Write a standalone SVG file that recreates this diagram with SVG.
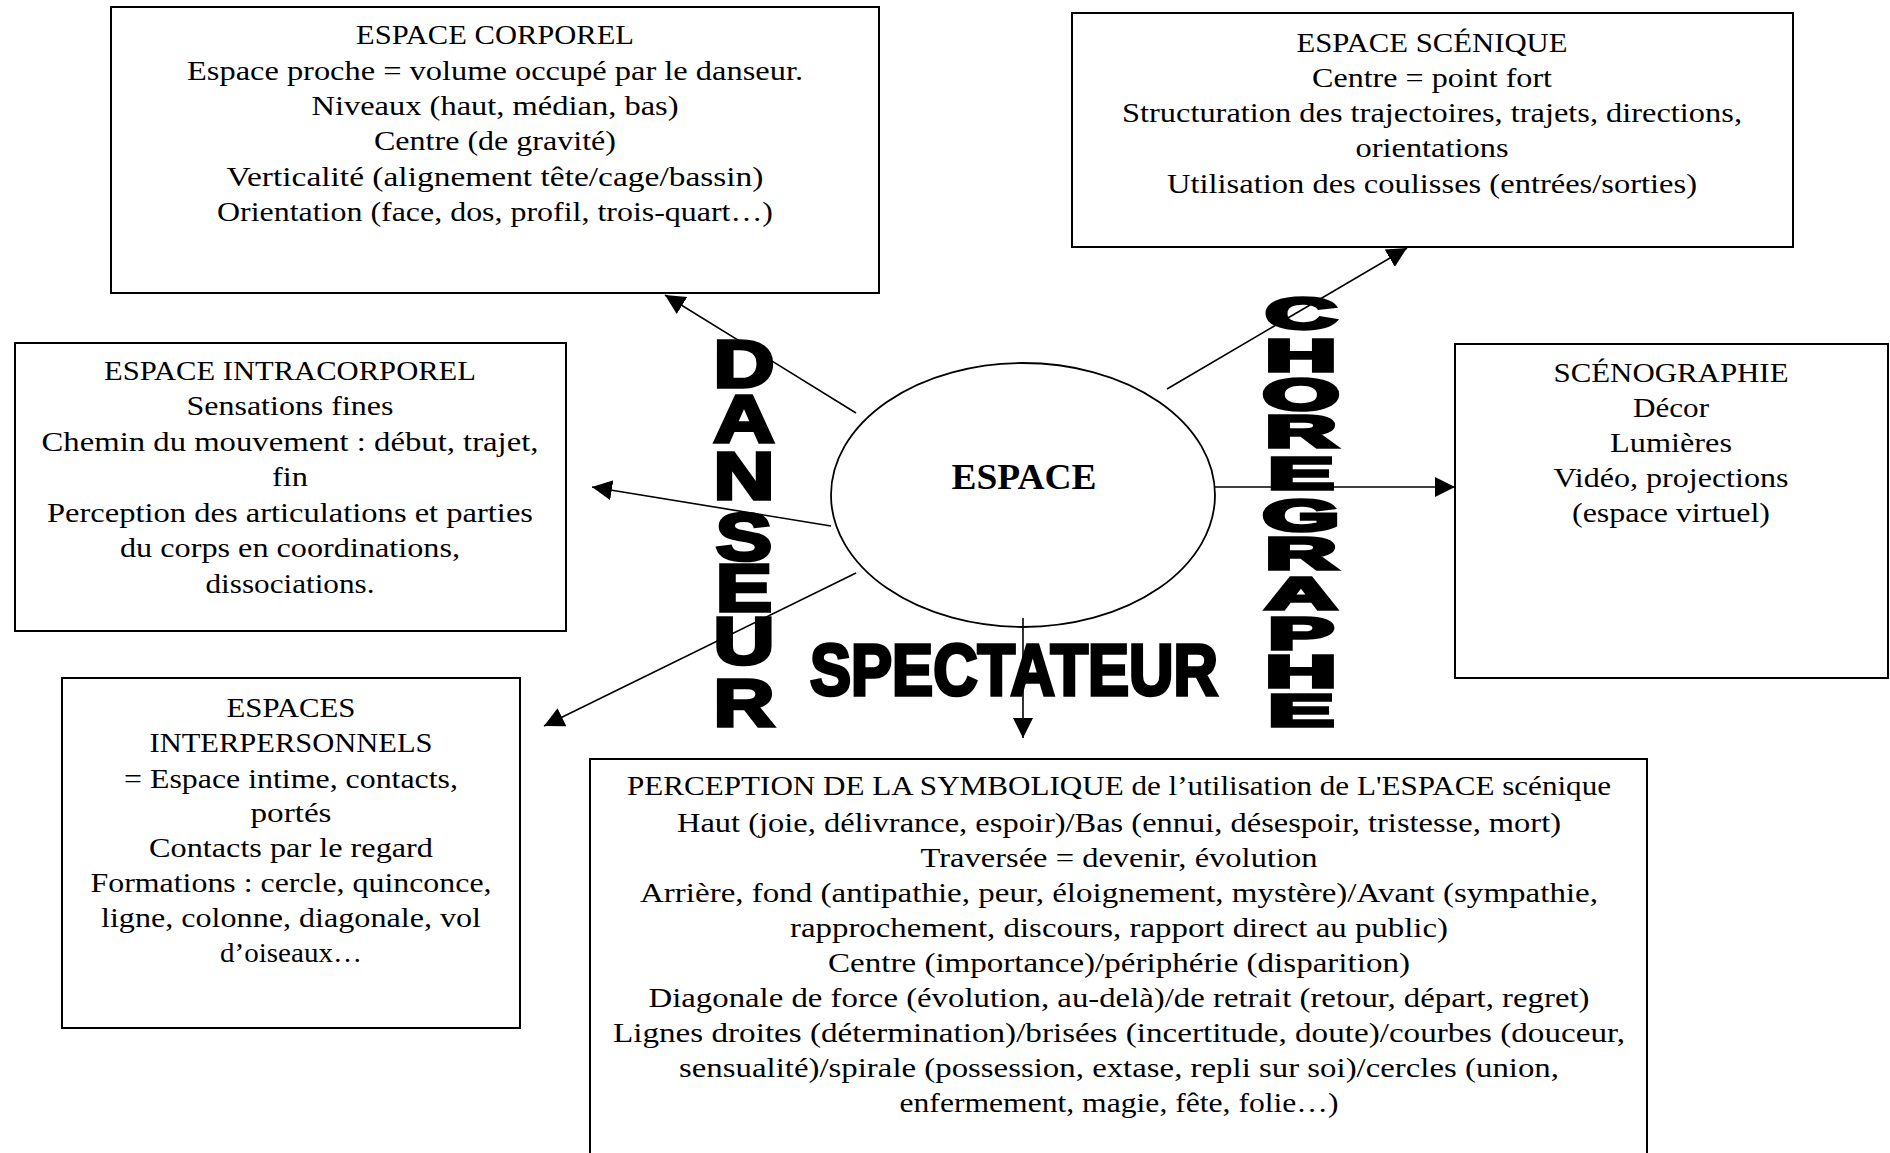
<svg xmlns="http://www.w3.org/2000/svg" width="1890" height="1153" viewBox="0 0 1890 1153">
<style>
.box { fill: #fff; stroke: #000; stroke-width: 2; }
.t { font-family: "Liberation Serif", "Times New Roman", serif; font-size: 27px; fill: #000; text-anchor: middle; }
.big { font-family: "Liberation Sans", Arial, sans-serif; font-weight: bold; fill: #000; stroke: #000; stroke-width: 3.5; stroke-linejoin: miter; text-anchor: middle; }
.conn { stroke: #000; stroke-width: 1.6; fill: none; marker-end: url(#arrow); }
</style>
<defs>
<marker id="arrow" markerUnits="userSpaceOnUse" markerWidth="22" markerHeight="22" refX="20" refY="10" orient="auto">
<path d="M0,0 L20,10 L0,20 z" fill="#000"/>
</marker>
</defs>
<rect width="1890" height="1153" fill="#fff"/>

<g id="espace-corporel">
<rect class="box" x="111" y="7" width="768" height="286"/>
<text class="t" x="495" y="44" textLength="278" lengthAdjust="spacingAndGlyphs">ESPACE CORPOREL</text>
<text class="t" x="495" y="80" textLength="616" lengthAdjust="spacingAndGlyphs">Espace proche = volume occupé par le danseur.</text>
<text class="t" x="495" y="115" textLength="367" lengthAdjust="spacingAndGlyphs">Niveaux (haut, médian, bas)</text>
<text class="t" x="495" y="150" textLength="242" lengthAdjust="spacingAndGlyphs">Centre (de gravité)</text>
<text class="t" x="495" y="186" textLength="537" lengthAdjust="spacingAndGlyphs">Verticalité (alignement tête/cage/bassin)</text>
<text class="t" x="495" y="221" textLength="556" lengthAdjust="spacingAndGlyphs">Orientation (face, dos, profil, trois-quart…)</text>
</g>

<g id="espace-scenique">
<rect class="box" x="1072" y="13" width="721" height="234"/>
<text class="t" x="1432" y="52" textLength="271" lengthAdjust="spacingAndGlyphs">ESPACE SCÉNIQUE</text>
<text class="t" x="1432" y="87" textLength="240" lengthAdjust="spacingAndGlyphs">Centre = point fort</text>
<text class="t" x="1432" y="122" textLength="620" lengthAdjust="spacingAndGlyphs">Structuration des trajectoires, trajets, directions,</text>
<text class="t" x="1432" y="157" textLength="153" lengthAdjust="spacingAndGlyphs">orientations</text>
<text class="t" x="1432" y="193" textLength="530" lengthAdjust="spacingAndGlyphs">Utilisation des coulisses (entrées/sorties)</text>
</g>

<g id="espace-intracorporel">
<rect class="box" x="15" y="343" width="551" height="288"/>
<text class="t" x="290" y="380" textLength="372" lengthAdjust="spacingAndGlyphs">ESPACE INTRACORPOREL</text>
<text class="t" x="290" y="415" textLength="207" lengthAdjust="spacingAndGlyphs">Sensations fines</text>
<text class="t" x="290" y="451" textLength="497" lengthAdjust="spacingAndGlyphs">Chemin du mouvement : début, trajet,</text>
<text class="t" x="290" y="486" textLength="36" lengthAdjust="spacingAndGlyphs">fin</text>
<text class="t" x="290" y="522" textLength="486" lengthAdjust="spacingAndGlyphs">Perception des articulations et parties</text>
<text class="t" x="290" y="557" textLength="340" lengthAdjust="spacingAndGlyphs">du corps en coordinations,</text>
<text class="t" x="290" y="593" textLength="169" lengthAdjust="spacingAndGlyphs">dissociations.</text>
</g>

<g id="scenographie">
<rect class="box" x="1455" y="344" width="433" height="334"/>
<text class="t" x="1671" y="382" textLength="235" lengthAdjust="spacingAndGlyphs">SCÉNOGRAPHIE</text>
<text class="t" x="1671" y="417" textLength="76" lengthAdjust="spacingAndGlyphs">Décor</text>
<text class="t" x="1671" y="452" textLength="122" lengthAdjust="spacingAndGlyphs">Lumières</text>
<text class="t" x="1671" y="487" textLength="235" lengthAdjust="spacingAndGlyphs">Vidéo, projections</text>
<text class="t" x="1671" y="522" textLength="198" lengthAdjust="spacingAndGlyphs">(espace virtuel)</text>
</g>

<g id="espaces-interpersonnels">
<rect class="box" x="62" y="678" width="458" height="350"/>
<text class="t" x="291" y="717" textLength="129" lengthAdjust="spacingAndGlyphs">ESPACES</text>
<text class="t" x="291" y="752" textLength="283" lengthAdjust="spacingAndGlyphs">INTERPERSONNELS</text>
<text class="t" x="291" y="788" textLength="334" lengthAdjust="spacingAndGlyphs">= Espace intime, contacts,</text>
<text class="t" x="291" y="822" textLength="81" lengthAdjust="spacingAndGlyphs">portés</text>
<text class="t" x="291" y="857" textLength="284" lengthAdjust="spacingAndGlyphs">Contacts par le regard</text>
<text class="t" x="291" y="892" textLength="401" lengthAdjust="spacingAndGlyphs">Formations : cercle, quinconce,</text>
<text class="t" x="291" y="927" textLength="380" lengthAdjust="spacingAndGlyphs">ligne, colonne, diagonale, vol</text>
<text class="t" x="291" y="962" textLength="142" lengthAdjust="spacingAndGlyphs">d’oiseaux…</text>
</g>

<g id="perception-symbolique">
<rect class="box" x="590" y="759" width="1057" height="420"/>
<text class="t" x="1119" y="795" textLength="984" lengthAdjust="spacingAndGlyphs">PERCEPTION DE LA SYMBOLIQUE de l’utilisation de L'ESPACE scénique</text>
<text class="t" x="1119" y="832" textLength="884" lengthAdjust="spacingAndGlyphs">Haut (joie, délivrance, espoir)/Bas (ennui, désespoir, tristesse, mort)</text>
<text class="t" x="1119" y="867" textLength="397" lengthAdjust="spacingAndGlyphs">Traversée = devenir, évolution</text>
<text class="t" x="1119" y="902" textLength="958" lengthAdjust="spacingAndGlyphs">Arrière, fond (antipathie, peur, éloignement, mystère)/Avant (sympathie,</text>
<text class="t" x="1119" y="937" textLength="658" lengthAdjust="spacingAndGlyphs">rapprochement, discours, rapport direct au public)</text>
<text class="t" x="1119" y="972" textLength="582" lengthAdjust="spacingAndGlyphs">Centre (importance)/périphérie (disparition)</text>
<text class="t" x="1119" y="1007" textLength="941" lengthAdjust="spacingAndGlyphs">Diagonale de force (évolution, au-delà)/de retrait (retour, départ, regret)</text>
<text class="t" x="1119" y="1042" textLength="1012" lengthAdjust="spacingAndGlyphs">Lignes droites (détermination)/brisées (incertitude, doute)/courbes (douceur,</text>
<text class="t" x="1119" y="1077" textLength="880" lengthAdjust="spacingAndGlyphs">sensualité)/spirale (possession, extase, repli sur soi)/cercles (union,</text>
<text class="t" x="1119" y="1112" textLength="439" lengthAdjust="spacingAndGlyphs">enfermement, magie, fête, folie…)</text>
</g>

<g id="espace">
<ellipse cx="1023" cy="495" rx="192" ry="132" fill="#fff" stroke="#000" stroke-width="1.8"/>
<text x="1024" y="489" font-family="'Liberation Serif', 'Times New Roman', serif" font-size="36" font-weight="bold" text-anchor="middle" textLength="145" lengthAdjust="spacingAndGlyphs">ESPACE</text>
</g>

<g id="connectors">
<line class="conn" x1="856" y1="413" x2="665" y2="295"/>
<line class="conn" x1="1167" y1="389" x2="1407" y2="248"/>
<line class="conn" x1="831" y1="526" x2="592" y2="487"/>
<line class="conn" x1="856" y1="573" x2="544" y2="726"/>
<line class="conn" x1="1215" y1="487" x2="1455" y2="487"/>
<line class="conn" x1="1023" y1="618" x2="1023" y2="738"/>
</g>

<g id="danseur" transform="translate(744,0) scale(1.28,1)">
<text class="big" font-size="66" x="0" y="387">D</text>
<text class="big" font-size="66" x="0" y="442">A</text>
<text class="big" font-size="66" x="0" y="499">N</text>
<text class="big" font-size="66" x="0" y="560">S</text>
<text class="big" font-size="66" x="0" y="611">E</text>
<text class="big" font-size="66" x="0" y="664">U</text>
<text class="big" font-size="66" x="0" y="726">R</text>
</g>

<g id="choregraphe" transform="translate(1301,0) scale(2.2,1)">
<text class="big" font-size="45" x="0" y="329">C</text>
<text class="big" font-size="45" x="0" y="371">H</text>
<text class="big" font-size="45" x="0" y="410">O</text>
<text class="big" font-size="45" x="0" y="447">R</text>
<text class="big" font-size="45" x="0" y="489">E</text>
<text class="big" font-size="45" x="0" y="531">G</text>
<text class="big" font-size="45" x="0" y="569">R</text>
<text class="big" font-size="45" x="0" y="609">A</text>
<text class="big" font-size="45" x="0" y="649">P</text>
<text class="big" font-size="45" x="0" y="687">H</text>
<text class="big" font-size="45" x="0" y="726">E</text>
</g>

<g id="spectateur">
<text class="big" font-size="72" x="1014" y="695" textLength="408" lengthAdjust="spacingAndGlyphs">SPECTATEUR</text>
</g>
</svg>
